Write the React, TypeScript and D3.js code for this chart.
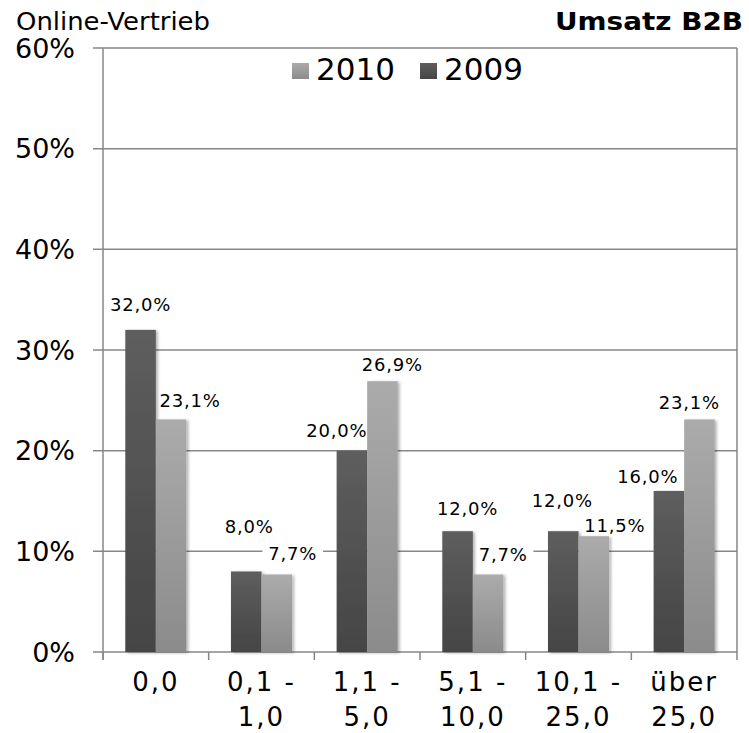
import React from 'react';
import * as d3 from 'd3';

// categories (x axis, two lines each)
const categories = [
  ['0,0'],
  ['0,1 -', '1,0'],
  ['1,1 -', '5,0'],
  ['5,1 -', '10,0'],
  ['10,1 -', '25,0'],
  ['über', '25,0'],
];

// series values in percent
const values2009 = [32.0, 8.0, 20.0, 12.0, 12.0, 16.0];
const values2010 = [23.1, 7.7, 26.9, 7.7, 11.5, 23.1];

const yTicks = [0, 10, 20, 30, 40, 50, 60];

// manual label nudges (as in the original chart), [dx, dy] from bar top centre
const labelShift2009 = [[0, -19], [3, -38], [-15, -14], [10, -16], [-1, -24], [-21, -8]];
const labelShift2010 = [[19, -12], [16, -14], [10, -10], [15, -13], [21, -4], [-10, -10]];

const W = 749;
const H = 733;
const margin = { top: 48, right: 12, bottom: 81, left: 103 };

const fmt = (v: number) => v.toFixed(1).replace('.', ',') + '%';

export default function App() {
  const x0 = d3.scaleBand<number>()
    .domain(categories.map((_, i) => i))
    .range([margin.left, W - margin.right])
    .padding(0);

  const y = d3.scaleLinear()
    .domain([0, 60])
    .range([H - margin.bottom, margin.top]);

  const groupW = x0.bandwidth() * 0.578;
  const x1 = d3.scaleBand<string>()
    .domain(['2009', '2010'])
    .range([-groupW / 2, groupW / 2])
    .padding(0);

  const series = [
    { key: '2009', values: values2009, fill: 'url(#gDark)', shift: labelShift2009 },
    { key: '2010', values: values2010, fill: 'url(#gLight)', shift: labelShift2010 },
  ];

  const bars = series.flatMap(s =>
    s.values.map((v, i) => {
      const cx = (x0(i) as number) + x0.bandwidth() / 2;
      const bx = cx + (x1(s.key) as number);
      return {
        key: s.key, i, v, fill: s.fill,
        x: bx, w: x1.bandwidth(), top: y(v),
        lx: bx + x1.bandwidth() / 2 + s.shift[i][0],
        ly: y(v) + s.shift[i][1],
      };
    })
  );

  const grid = '#878787';
  const font = "'DejaVu Sans', Verdana, sans-serif";
  const labelFont = 18;
  const charW = (t: string) => t.length * labelFont * 0.62;

  return (
    <svg width={W} height={H} style={{ position: 'absolute', left: 0, top: 0, background: '#fff' }}
      fontFamily={font}>
      <defs>
        <linearGradient id="gDark" x1="0" y1="0" x2="0" y2="1">
          <stop offset="0" stopColor="#5e5e5e" />
          <stop offset="1" stopColor="#454545" />
        </linearGradient>
        <linearGradient id="gLight" x1="0" y1="0" x2="0" y2="1">
          <stop offset="0" stopColor="#ababab" />
          <stop offset="1" stopColor="#8b8b8b" />
        </linearGradient>
        <filter id="shadow" x="-20%" y="-5%" width="150%" height="115%">
          <feDropShadow dx="2" dy="1" stdDeviation="1.5" floodColor="#000" floodOpacity="0.3" />
        </filter>
      </defs>

      {/* titles */}
      <text x={16} y={30} fontSize={24} fill="#000" textLength={194} lengthAdjust="spacingAndGlyphs">Online-Vertrieb</text>
      <text x={743} y={30} fontSize={24} fontWeight="bold" fill="#000" textAnchor="end"
        textLength={188} lengthAdjust="spacingAndGlyphs">Umsatz B2B</text>

      {/* gridlines + y ticks */}
      {yTicks.map(t => (
        <g key={t}>
          <line x1={margin.left - 10} x2={W - margin.right} y1={y(t)} y2={y(t)} stroke={grid} strokeWidth={1.5} />
          <text x={75} y={y(t)} dy="0.36em" fontSize={27} textAnchor="end" fill="#000">{t}%</text>
        </g>
      ))}

      {/* plot frame: y axis + right border */}
      <line x1={margin.left} x2={margin.left} y1={margin.top} y2={H - margin.bottom + 8} stroke={grid} strokeWidth={1.5} />
      <line x1={W - margin.right} x2={W - margin.right} y1={margin.top} y2={H - margin.bottom + 8} stroke={grid} strokeWidth={1.5} />

      {/* category ticks */}
      {categories.map((_, i) => (
        <line key={i} x1={x0(i)} x2={x0(i)} y1={H - margin.bottom} y2={H - margin.bottom + 8} stroke={grid} strokeWidth={1.5} />
      ))}

      {/* label backgrounds */}
      {bars.map(b => {
        const t = fmt(b.v);
        const w = charW(t) + 16;
        return <rect key={'bg' + b.key + b.i} x={b.lx - w / 2} y={b.ly - 18} width={w} height={24} fill="#fff" />;
      })}

      {/* bars */}
      {bars.map(b => (
        <rect key={b.key + b.i} x={b.x} y={b.top} width={b.w} height={y(0) - b.top}
          fill={b.fill} filter="url(#shadow)" />
      ))}

      {/* bar labels */}
      {bars.map(b => (
        <text key={'t' + b.key + b.i} x={b.lx} y={b.ly} fontSize={labelFont} letterSpacing={0.8}
          textAnchor="middle" fill="#000">{fmt(b.v)}</text>
      ))}

      {/* x labels */}
      {categories.map((lines, i) => (
        <text key={'c' + i} x={(x0(i) as number) + x0.bandwidth() / 2} y={691} fontSize={26}
          letterSpacing={2} textAnchor="middle" fill="#000">
          {lines.map((l, k) => (
            <tspan key={k} x={(x0(i) as number) + x0.bandwidth() / 2} dy={k === 0 ? 0 : 35}>{l}</tspan>
          ))}
        </text>
      ))}

      {/* legend */}
      <g transform="translate(292,63)">
        <rect x={0} y={0} width={17} height={16} fill="url(#gLight)" />
        <text x={24} y={17} fontSize={31} fill="#000">2010</text>
        <rect x={128} y={0} width={17} height={16} fill="url(#gDark)" />
        <text x={152} y={17} fontSize={31} fill="#000">2009</text>
      </g>
    </svg>
  );
}
